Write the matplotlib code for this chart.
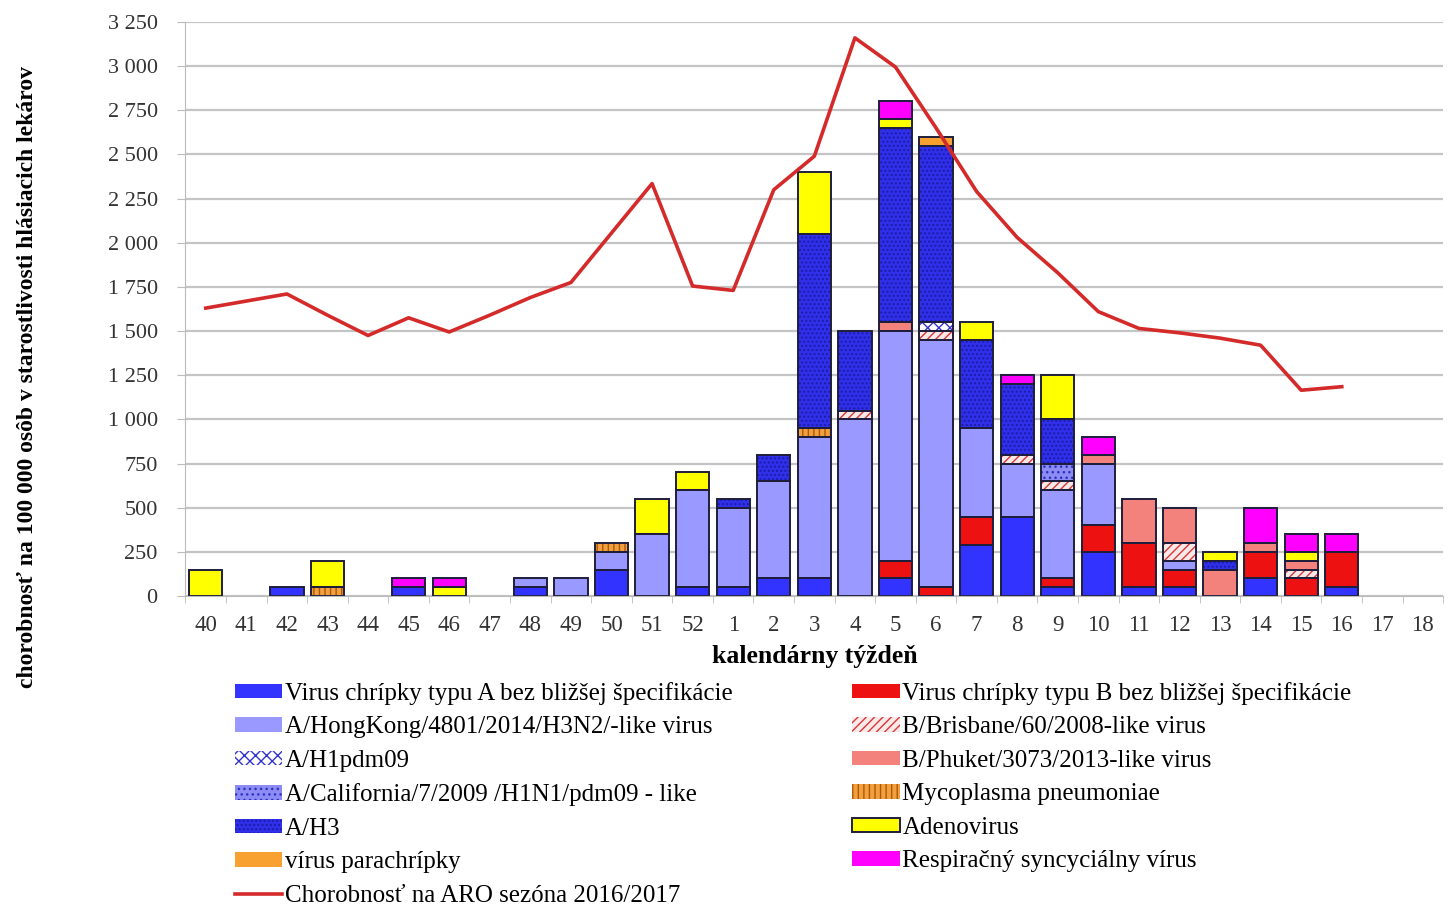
import numpy as np
import matplotlib
matplotlib.use("Agg")
import matplotlib.pyplot as plt
from matplotlib.ticker import FuncFormatter, MultipleLocator, FixedLocator

plt.rcParams['font.family'] = ['Liberation Serif', 'DejaVu Serif']
plt.rcParams['hatch.linewidth'] = 1.0

# calendar weeks
weeks = ['40', '41', '42', '43', '44', '45', '46', '47', '48', '49', '50', '51', '52',
         '1', '2', '3', '4', '5', '6', '7', '8', '9', '10', '11', '12', '13', '14',
         '15', '16', '17', '18']

a_unspec = [0, 0, 50, 0, 0, 50, 0, 0, 50, 0, 150, 0, 50, 50, 100, 100, 0, 100, 0,
            290, 450, 50, 250, 50, 50, 0, 100, 0, 50, 0, 0]
b_unspec = [0, 0, 0, 0, 0, 0, 0, 0, 0, 0, 0, 0, 0, 0, 0, 0, 0, 100, 50,
            160, 0, 50, 150, 250, 100, 0, 150, 100, 200, 0, 0]
hongkong = [0, 0, 0, 0, 0, 0, 0, 0, 50, 100, 100, 350, 550, 450, 550, 800, 1000, 1300, 1400,
            500, 300, 500, 350, 0, 50, 0, 0, 0, 0, 0, 0]
brisbane = [0, 0, 0, 0, 0, 0, 0, 0, 0, 0, 0, 0, 0, 0, 0, 0, 50, 0, 50,
            0, 50, 50, 0, 0, 100, 0, 0, 50, 0, 0, 0]
phuket = [0, 0, 0, 0, 0, 0, 0, 0, 0, 0, 0, 0, 0, 0, 0, 0, 0, 50, 0,
          0, 0, 0, 50, 250, 200, 150, 50, 50, 0, 0, 0]
h1pdm09 = [0, 0, 0, 0, 0, 0, 0, 0, 0, 0, 0, 0, 0, 0, 0, 0, 0, 0, 50,
           0, 0, 0, 0, 0, 0, 0, 0, 0, 0, 0, 0]
california = [0, 0, 0, 0, 0, 0, 0, 0, 0, 0, 0, 0, 0, 0, 0, 0, 0, 0, 0,
              0, 0, 100, 0, 0, 0, 0, 0, 0, 0, 0, 0]
mycoplasma = [0, 0, 0, 50, 0, 0, 0, 0, 0, 0, 50, 0, 0, 0, 0, 50, 0, 0, 0,
              0, 0, 0, 0, 0, 0, 0, 0, 0, 0, 0, 0]
a_h3 = [0, 0, 0, 0, 0, 0, 0, 0, 0, 0, 0, 0, 0, 50, 150, 1100, 450, 1100, 1000,
        500, 400, 250, 0, 0, 0, 50, 0, 0, 0, 0, 0]
parachripka = [0, 0, 0, 0, 0, 0, 0, 0, 0, 0, 0, 0, 0, 0, 0, 0, 0, 0, 50,
               0, 0, 0, 0, 0, 0, 0, 0, 0, 0, 0, 0]
adeno = [150, 0, 0, 150, 0, 0, 50, 0, 0, 0, 0, 200, 100, 0, 0, 350, 0, 50, 0,
         100, 0, 250, 0, 0, 0, 50, 0, 50, 0, 0, 0]
rsv = [0, 0, 0, 0, 0, 50, 50, 0, 0, 0, 0, 0, 0, 0, 0, 0, 0, 100, 0,
       0, 50, 0, 100, 0, 0, 0, 200, 100, 100, 0, 0]

aro = [1630, 1670, 1710, 1590, 1475, 1575, 1495, 1590, 1690, 1775, 2055, 2335, 1755,
       1730, 2300, 2490, 3160, 2995, 2650, 2290, 2030, 1830, 1610, 1515, 1490, 1460,
       1420, 1165, 1185, np.nan, np.nan]

labels = {
    'a': 'Virus chrípky typu A bez bližšej špecifikácie',
    'hk': 'A/HongKong/4801/2014/H3N2/-like virus',
    'h1': 'A/H1pdm09',
    'cal': 'A/California/7/2009 /H1N1/pdm09 - like',
    'h3': 'A/H3',
    'para': 'vírus parachrípky',
    'b': 'Virus chrípky typu B bez bližšej špecifikácie',
    'bris': 'B/Brisbane/60/2008-like virus',
    'phu': 'B/Phuket/3073/2013-like virus',
    'myco': 'Mycoplasma pneumoniae',
    'adeno': 'Adenovirus',
    'rsv': 'Respiračný syncyciálny vírus',
}

# stacking order (bottom -> top): key, values, face, hatch, hatch colour
stack = [
    ('a', a_unspec, '#3333FF', None, '#3333FF'),
    ('b', b_unspec, '#EE1111', None, '#EE1111'),
    ('hk', hongkong, '#9999FF', None, '#9999FF'),
    ('bris', brisbane, '#FBE8E8', '////', '#D83838'),
    ('phu', phuket, '#F4827C', None, '#F4827C'),
    ('h1', h1pdm09, '#FFFFFF', 'xxx', '#3333CC'),
    ('cal', california, '#8C8CF4', '...', '#3030C0'),
    ('myco', mycoplasma, '#F0A040', '|||', '#B05800'),
    ('h3', a_h3, '#3030EA', '....', '#1C1CA8'),
    ('para', parachripka, '#F8A030', None, '#F8A030'),
    ('adeno', adeno, '#FFFF00', None, '#FFFF00'),
    ('rsv', rsv, '#FF00FF', None, '#FF00FF'),
]

fig = plt.figure(figsize=(14.49, 9.08), dpi=100)
ax = fig.add_axes([0.128, 0.3436, 0.868, 0.6322])

x = np.arange(len(weeks))
width = 0.82
bottom = np.zeros(len(weeks))
handles = {}
for key, vals, face, hatch, hcol in stack:
    v = np.array(vals, dtype=float)
    fill = ax.bar(x, v, width, bottom=bottom, color=face, hatch=hatch,
                  edgecolor=hcol, linewidth=0, zorder=2)
    lw = np.where(v > 0, 1.4, 0)
    outline = ax.bar(x, v, width, bottom=bottom, fill=False,
                     edgecolor='#1E1E3C', linewidth=lw, zorder=2.5)
    handles[key] = (fill, outline)
    bottom += v

line, = ax.plot(x, aro, color='#D42A2A', linewidth=2.6, zorder=4)

ax.set_xlim(-0.5, len(weeks) - 0.5)
ax.set_ylim(0, 3250)
ax.yaxis.set_major_locator(MultipleLocator(250))
ax.yaxis.set_major_formatter(FuncFormatter(lambda v, p: f"{int(v):,}".replace(",", " ")))
ax.grid(axis='y', color='#C4C4C4', linewidth=1.6, zorder=0)
ax.set_axisbelow(True)

ax.set_xticks(x)
ax.set_xticklabels(weeks)
ax.xaxis.set_minor_locator(FixedLocator(np.arange(-0.5, len(weeks), 1.0)))
ax.tick_params(axis='x', which='major', length=0, labelsize=16.5, pad=14, colors='#333333')
ax.tick_params(axis='x', which='minor', length=5, color='#BBBBBB')
ax.tick_params(axis='y', length=6, color='#BBBBBB', labelsize=16, pad=14, labelcolor='#333333')

for s in ['top', 'right']:
    ax.spines[s].set_visible(False)
ax.spines['left'].set_color('#BBBBBB')
ax.spines['bottom'].set_color('#BBBBBB')

ax.set_xlabel('kalendárny týždeň', fontsize=18.5, fontweight='bold', labelpad=6)
fig.text(0.019, 0.585, 'chorobnosť na 100 000 osôb v starostlivosti hlásiacich lekárov',
         rotation=90, fontsize=17, fontweight='bold', ha='center', va='center')

order = ['a', 'hk', 'h1', 'cal', 'h3', 'para']
h = [handles[k] for k in order] + [line]
l = [labels[k] for k in order] + ['Chorobnosť na ARO sezóna 2016/2017']
order2 = ['b', 'bris', 'phu', 'myco', 'adeno', 'rsv']
h += [handles[k] for k in order2]
l += [labels[k] for k in order2]

fig.legend(h, l, loc='upper left', bbox_to_anchor=(0.155, 0.26), ncol=2,
           frameon=False, fontsize=18, handlelength=1.9, handleheight=0.5,
           handletextpad=0.1, labelspacing=0.46, columnspacing=4.8, borderaxespad=0)

plt.savefig('out.png', dpi=100)
